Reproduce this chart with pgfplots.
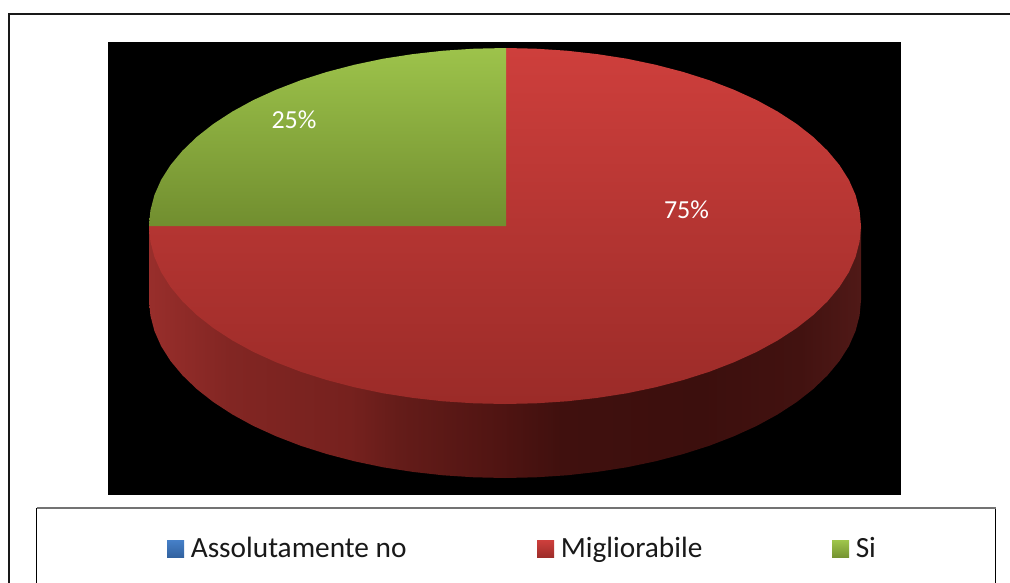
\documentclass[border=0pt]{standalone}
\usepackage{pgfplots}
\pgfplotsset{compat=1.18}
\usepackage{fontspec}
\setmainfont{Carlito}
\definecolor{sideA}{RGB}{152,46,43}
\definecolor{sideB}{RGB}{130,38,35}
\definecolor{sideC}{RGB}{118,33,30}
\definecolor{sideD}{RGB}{100,28,25}
\definecolor{sideE}{RGB}{80,20,18}
\definecolor{sideF}{RGB}{64,16,14}
\definecolor{sideG}{RGB}{60,15,13}
\definecolor{sideH}{RGB}{66,18,16}
\definecolor{sideI}{RGB}{80,25,23}
\pgfdeclarehorizontalshading{sideband}{100bp}{color(0bp)=(sideA); color(25bp)=(sideA); color(30.7bp)=(sideB); color(39.1bp)=(sideC); color(42.6bp)=(sideD); color(49.6bp)=(sideE); color(53.9bp)=(sideF); color(63.7bp)=(sideG); color(70.7bp)=(sideH); color(75bp)=(sideI); color(100bp)=(sideI)}
\begin{document}
\begin{tikzpicture}
\begin{axis}[
  scale only axis, width=757.5pt, height=436.5pt,
  xmin=0, xmax=1010, ymin=0, ymax=582, y dir=reverse,
  hide axis, clip=true,
]
% page
\addplot[draw=none, fill=white, forget plot] coordinates {(0,0) (1010,0) (1010,582) (0,582)} -- cycle;
% outer frame
\addplot[draw=black!45, line width=2pt, forget plot] coordinates {(9,590) (9,14) (1015,14)};
\addplot[draw=black!90, line width=1pt, forget plot] coordinates {(9,590) (9,14) (1015,14)};
% chart area
\addplot[draw=none, fill=black, forget plot] coordinates {(108,42) (901,42) (901,494.5) (108,494.5)} -- cycle;
% side band
\addplot[draw=none, shading=sideband, forget plot] coordinates {
(149,226) (149,300) (150.4,315.5) (154.4,330.9) (161.1,346.1) (170.5,360.9) (182.4,375.2) (196.7,389) (213.4,402.1) (232.3,414.4) (253.3,425.9) (276.2,436.3) (300.8,445.8) (327,454.1) (354.6,461.3) (383.2,467.3) (412.9,471.9) (443.2,475.3) (474,477.3) (505,478)
(536,477.3) (566.8,475.3) (597.1,471.9) (626.8,467.3) (655.4,461.3) (683,454.1) (709.2,445.8) (733.8,436.3) (756.7,425.9) (777.7,414.4) (796.6,402.1) (813.3,389) (827.6,375.2) (839.5,360.9) (848.9,346.1) (855.6,330.9) (859.6,315.5) (861,300) (861,226)} -- cycle;
% 75 %: Migliorabile
\addplot[draw=none, top color={rgb,255:red,206;green,63;blue,60}, bottom color={rgb,255:red,155;green,43;blue,40}, forget plot] coordinates {
(506,226) (506,48) (536,48.7) (566.8,50.7) (597.1,54.1) (626.8,58.7) (655.4,64.7) (683,71.9) (709.2,80.2) (733.8,89.7) (756.7,100.1) (777.7,111.6) (796.6,123.9) (813.3,137) (827.6,150.8) (839.5,165.1) (848.9,179.9) (855.6,195.1) (859.6,210.5) (861,226)
(859.6,241.5) (855.6,256.9) (848.9,272.1) (839.5,286.9) (827.6,301.2) (813.3,315) (796.6,328.1) (777.7,340.4) (756.7,351.9) (733.8,362.3) (709.2,371.8) (683,380.1) (655.4,387.3) (626.8,393.3) (597.1,397.9) (566.8,401.3) (536,403.3) (505,404)
(474,403.3) (443.2,401.3) (412.9,397.9) (383.2,393.3) (354.6,387.3) (327,380.1) (300.8,371.8) (276.2,362.3) (253.3,351.9) (232.3,340.4) (213.4,328.1) (196.7,315) (182.4,301.2) (170.5,286.9) (161.1,272.1) (154.4,256.9) (150.4,241.5) (149,226)} -- cycle;
% 25 %: Si
\addplot[draw=none, top color={rgb,255:red,157;green,195;blue,75}, bottom color={rgb,255:red,113;green,142;blue,47}, forget plot] coordinates {
(506,226) (149,226) (150.4,210.5) (154.4,195.1) (161.1,179.9) (170.5,165.1) (182.4,150.8) (196.7,137) (213.4,123.9) (232.3,111.6) (253.3,100.1) (276.2,89.7) (300.8,80.2) (327,71.9) (354.6,64.7) (383.2,58.7) (412.9,54.1) (443.2,50.7) (474,48.7) (506,48)} -- cycle;
% legend box
\addplot[draw=black, line width=0.7pt, fill=white, forget plot] coordinates {(36.5,590) (36.5,508) (995.5,508) (995.5,590)} -- cycle;
\addplot[draw=black!55, line width=1.1pt, forget plot] coordinates {(36.5,508) (995.5,508)};
\addplot[draw=none, top color={rgb,255:red,70;green,128;blue,200}, bottom color={rgb,255:red,50;green,98;blue,160}, forget plot] coordinates {(167,540) (184,540) (184,557) (167,557)} -- cycle;
\addplot[draw=none, top color={rgb,255:red,206;green,63;blue,60}, bottom color={rgb,255:red,158;green,45;blue,42}, forget plot] coordinates {(537,540) (554,540) (554,557) (537,557)} -- cycle;
\addplot[draw=none, top color={rgb,255:red,159;green,198;blue,75}, bottom color={rgb,255:red,118;green,148;blue,50}, forget plot] coordinates {(832,540) (849,540) (849,557) (832,557)} -- cycle;
% text
\node[anchor=base west, font=\fontsize{22}{26}\selectfont, text=black!90, inner sep=0pt] at (axis cs:190.5,557) {Assolutamente no};
\node[anchor=base west, font=\fontsize{22}{26}\selectfont, text=black!90, inner sep=0pt] at (axis cs:560.5,557) {Migliorabile};
\node[anchor=base west, font=\fontsize{22}{26}\selectfont, text=black!90, inner sep=0pt] at (axis cs:855.5,557) {Si};
\node[anchor=base, font=\fontsize{19.5}{23}\selectfont, text=white, inner sep=0pt] at (axis cs:294,128.5) {25\%};
\node[anchor=base, font=\fontsize{19.5}{23}\selectfont, text=white, inner sep=0pt] at (axis cs:686.5,218) {75\%};
\end{axis}
\end{tikzpicture}
\end{document}
